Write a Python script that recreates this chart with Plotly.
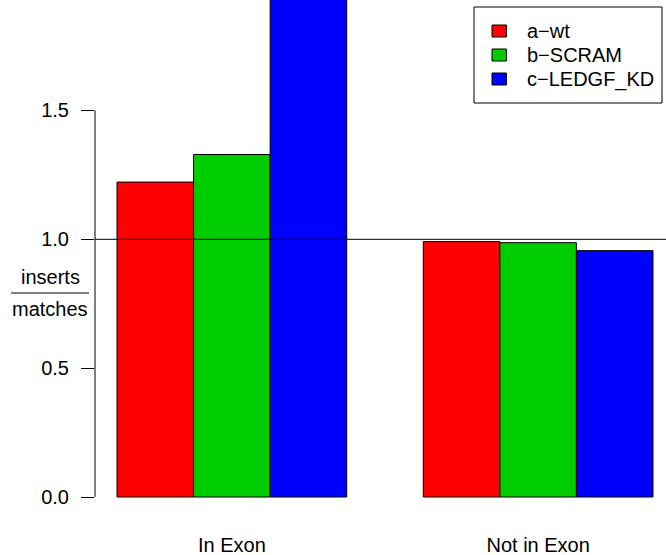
import plotly.graph_objects as go

# Data
groups = ["In Exon", "Not in Exon"]
series = ["a−wt", "b−SCRAM", "c−LEDGF_KD"]
wt_vals = [1.222, 0.991]
scram_vals = [1.329, 0.987]
kd_vals = [2.10, 0.956]
y_ticks = [0.0, 0.5, 1.0, 1.5]
colors = ["#FF0000", "#00CD00", "#0000FF"]

series_vals = [wt_vals, scram_vals, kd_vals]

# Figure geometry (pixels)
W, H = 666, 555
M_L, M_R, M_T, M_B = 95, 0, 0, 37
plot_w = W - M_L - M_R
plot_h = H - M_T - M_B
px_per_unit_y = 257.7          # pixels per 1.0 on the y axis
zero_px = 497                   # y pixel of value 0
y_hi = (zero_px - M_T) / px_per_unit_y
y_lo = -(M_T + plot_h - zero_px) / px_per_unit_y

bar_w_px = 76.57                # one bar = one x unit
x_lo = 1 - (117 - M_L) / bar_w_px
x_hi = x_lo + plot_w / bar_w_px

# grouped bar layout: bars of width 1, one empty slot between groups
n_series = len(series)
group_start = [1 + g * (n_series + 1) for g in range(len(groups))]
group_centers = [s + n_series / 2 for s in group_start]

fig = go.Figure()
for k, (name, vals, col) in enumerate(zip(series, series_vals, colors)):
    fig.add_trace(go.Bar(
        x=[s + k + 0.5 for s in group_start],
        y=vals,
        width=1,
        name=name,
        showlegend=False,
        marker=dict(color=col, line=dict(color="black", width=1)),
    ))

font_family = "Liberation Sans, Arial, sans-serif"
fs = 20


def py_to_y(py):
    return (zero_px - py) / px_per_unit_y


def px_to_paper(px):
    return (px - M_L) / plot_w


def py_to_paper(py):
    return (M_T + plot_h - py) / plot_h


shapes = [
    # y axis line spanning the tick range only
    dict(type="line", xref="paper", yref="y", x0=0, x1=0,
         y0=min(y_ticks), y1=max(y_ticks), line=dict(color="black", width=1)),
    # reference line at 1.0
    dict(type="line", xref="paper", yref="y", x0=0, x1=1, y0=1.0, y1=1.0,
         line=dict(color="black", width=1)),
    # fraction bar of the y label
    dict(type="line", xref="paper", yref="y", x0=px_to_paper(11), x1=px_to_paper(89),
         y0=py_to_y(293), y1=py_to_y(293), line=dict(color="black", width=1)),
]

annotations = [
    dict(text="inserts", xref="paper", yref="y", x=px_to_paper(50), y=py_to_y(277),
         xanchor="center", yanchor="middle", showarrow=False,
         font=dict(family=font_family, size=fs, color="black")),
    dict(text="matches", xref="paper", yref="y", x=px_to_paper(50), y=py_to_y(309),
         xanchor="center", yanchor="middle", showarrow=False,
         font=dict(family=font_family, size=fs, color="black")),
]

# Legend box (top right): bordered frame, filled keys, labels
leg_left, leg_right, leg_top = 474, 662, 7
row_h = 24
leg_bottom = leg_top + row_h * (len(series) + 1)
shapes.append(dict(type="rect", xref="paper", yref="paper",
                   x0=px_to_paper(leg_left), x1=px_to_paper(leg_right),
                   y0=py_to_paper(leg_bottom), y1=py_to_paper(leg_top),
                   line=dict(color="black", width=1), fillcolor="white", layer="above"))
key_x0, key_w, key_h = 492, 14.4, 12
text_x = 525
for i, (name, col) in enumerate(zip(series, colors)):
    cy = leg_top + row_h * (i + 1)
    shapes.append(dict(type="rect", xref="paper", yref="paper",
                       x0=px_to_paper(key_x0), x1=px_to_paper(key_x0 + key_w),
                       y0=py_to_paper(cy + key_h / 2), y1=py_to_paper(cy - key_h / 2),
                       line=dict(color="black", width=1), fillcolor=col, layer="above"))
    annotations.append(dict(text=name, xref="paper", yref="paper",
                            x=px_to_paper(text_x), y=py_to_paper(cy),
                            xanchor="left", yanchor="middle", showarrow=False,
                            font=dict(family=font_family, size=fs, color="black")))

fig.update_layout(
    width=W, height=H, autosize=False,
    margin=dict(l=M_L, r=M_R, t=M_T, b=M_B, pad=0),
    paper_bgcolor="white", plot_bgcolor="white",
    barmode="overlay",
    font=dict(family=font_family, size=fs, color="black"),
    shapes=shapes,
    annotations=annotations,
    showlegend=False,
    xaxis=dict(
        range=[x_lo, x_hi], showgrid=False, zeroline=False, showline=False,
        tickmode="array", tickvals=group_centers, ticktext=groups,
        ticks="", ticklabelstandoff=13,
        tickfont=dict(family=font_family, size=fs, color="black"),
    ),
    yaxis=dict(
        range=[y_lo, y_hi], showgrid=False, zeroline=False, showline=False,
        tickmode="array", tickvals=y_ticks, ticktext=[f"{v:.1f}" for v in y_ticks],
        ticks="outside", ticklen=13, tickwidth=1, tickcolor="black",
        ticklabelstandoff=8,
        tickfont=dict(family=font_family, size=fs, color="black"),
    ),
)

fig.write_html("out.html")
